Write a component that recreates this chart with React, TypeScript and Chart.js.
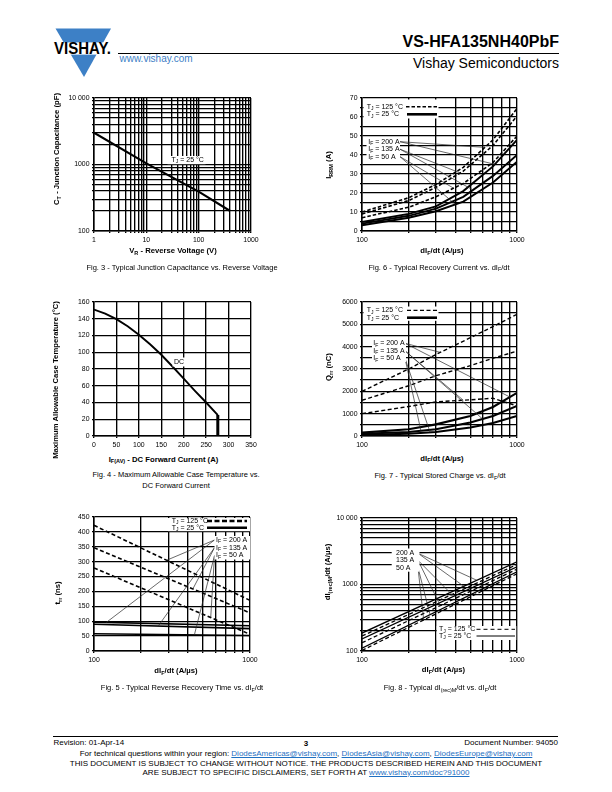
import React, { useEffect, useRef } from "react";
import { Chart, registerables } from "chart.js";

Chart.register(...registerables);

const FONT = '"Liberation Sans", Arimo, Arial, Helvetica, sans-serif';

// ---------------- tick values / labels ----------------
const logGrid = (lo: number, hi: number) => {
  const out: number[] = [];
  for (let d = lo; d < hi; d *= 10) for (let m = 1; m < 10; m++) out.push(Math.round(d * m));
  out.push(hi);
  return out;
};
const vrLabels = [1, 10, 100, 1000];
const vrText = ["1", "10", "100", "1000"];
const ctLabels = [100, 1000, 10000];
const ctText = ["100", "1000", "10 000"];
const rateLabels = [100, 1000];
const rateText = ["100", "1000"];
const irrmGrid = [0, 5, 10, 15, 20, 25, 30, 35, 40, 45, 50, 55, 60, 65, 70];
const irrmLabels = [0, 10, 20, 30, 40, 50, 60, 70];
const ifavGrid = [0, 50, 100, 150, 200, 250, 300, 350];
const tcGrid = [0, 20, 40, 60, 80, 100, 120, 140, 160];
const qrrGrid = [0, 500, 1000, 1500, 2000, 2500, 3000, 3500, 4000, 4500, 5000, 5500, 6000];
const qrrLabels = [0, 1000, 2000, 3000, 4000, 5000, 6000];
const trrGrid = [0, 50, 100, 150, 200, 250, 300, 350, 400, 450];
const didtLabels = [100, 1000, 10000];
const didtText = ["100", "1000", "10 000"];

// ---------------- Fig. 3 data ----------------
const fig3VR = [1, 10, 100, 400];
const fig3CT = [3000, 1040, 390, 200];

// ---------------- Fig. 6 data ----------------
const fig6Rate = [100, 200, 300, 450, 700, 1000];
const fig6D200 = [10, 17.5, 24.5, 33.5, 48, 64.5];
const fig6D135 = [9, 16, 23, 31.5, 45, 60.5];
const fig6D50 = [7, 12.5, 18, 25, 36, 50];
const fig6S200 = [4.7, 9, 13, 21, 34, 48];
const fig6S135 = [3.9, 8, 11.8, 18, 29, 40];
const fig6S50 = [3, 7, 10.4, 15.5, 25.5, 36.5];

// ---------------- Fig. 4 data ----------------
const fig4IF = [0, 25, 50, 75, 100, 125, 150, 175, 200, 225, 250, 276];
const fig4TC = [151, 146, 139.5, 131, 121, 109.5, 97, 83, 68.5, 54, 40, 25];
const fig4DropIF = [276, 276];
const fig4DropTC = [25, 0];

// ---------------- Fig. 7 data ----------------
const fig7Rate = [100, 200, 300, 500, 700, 1000];
const fig7D200 = [2000, 3000, 3650, 4400, 4900, 5450];
const fig7D135 = [1600, 2250, 2700, 3150, 3480, 3800];
const fig7D50 = [1000, 1320, 1530, 1620, 1690, 1350];
const fig7S200 = [150, 300, 520, 900, 1300, 1930];
const fig7S135 = [100, 180, 300, 600, 900, 1350];
const fig7S50 = [50, 100, 180, 380, 580, 900];

// ---------------- Fig. 5 data ----------------
const fig5Rate = [100, 1000];
const fig5D200 = [422, 170];
const fig5D135 = [347, 128];
const fig5D50 = [279, 56];
const fig5S200 = [97, 85];
const fig5S135 = [90, 75];
const fig5S50 = [58, 52];

// ---------------- Fig. 8 data ----------------
const fig8Rate = [100, 1000];
const fig8S200 = [186, 2200];
const fig8D200 = [168, 2000];
const fig8S135 = [152, 1850];
const fig8D135 = [133, 1700];
const fig8S50 = [110, 1550];
const fig8D50 = [102, 1450];

// ---------------- helpers ----------------
type Part = { t: string; sub: boolean };
function parseRich(s: string): Part[] {
  const parts: Part[] = [];
  const re = /_\{([^}]*)\}/g;
  let last = 0;
  let m: RegExpExecArray | null;
  while ((m = re.exec(s))) {
    if (m.index > last) parts.push({ t: s.slice(last, m.index), sub: false });
    parts.push({ t: m[1], sub: true });
    last = re.lastIndex;
  }
  if (last < s.length) parts.push({ t: s.slice(last), sub: false });
  return parts;
}

function drawRich(ctx: CanvasRenderingContext2D, s: string, x: number, y: number, size: number, align = "left") {
  const parts = parseRich(s);
  const fontFor = (sub: boolean) => `${sub ? size * 0.72 : size}px ${FONT}`;
  let w = 0;
  for (const p of parts) {
    ctx.font = fontFor(p.sub);
    w += ctx.measureText(p.t).width;
  }
  let cx = align === "right" ? x - w : align === "center" ? x - w / 2 : x;
  ctx.textBaseline = "middle";
  ctx.textAlign = "left";
  ctx.fillStyle = "#000";
  for (const p of parts) {
    ctx.font = fontFor(p.sub);
    ctx.fillText(p.t, cx, p.sub ? y + size * 0.3 : y);
    cx += ctx.measureText(p.t).width;
  }
}

type Series = { name: string; xs: number[]; ys: number[]; width: number; dash?: number[] };
type Axis = { type: "linear" | "logarithmic"; min: number; max: number; grid: number[]; labels: number[]; text: string[] };
type Sample = { x0: number; x1: number; y: number; width: number; dash?: number[] };
type RichItem = { x: number; y: number; s: string; align?: string };
type Leader = { from: [number, number]; series: string; at: number };
type Spec = {
  id: string;
  area: [number, number, number, number];
  x: Axis;
  y: Axis;
  series: Series[];
  boxes?: [number, number, number, number][];
  samples?: Sample[];
  texts?: RichItem[];
  leaders?: Leader[];
};

const PAD = { l: 40, t: 8, r: 14, b: 18 };

function buildAxis(a: Axis, horizontal: boolean) {
  return {
    type: a.type,
    min: a.min,
    max: a.max,
    position: horizontal ? "bottom" : "left",
    afterBuildTicks: (s: any) => {
      s.ticks = a.grid.map((v) => ({ value: v }));
    },
    afterFit: (s: any) => {
      if (horizontal) s.height = PAD.b;
      else s.width = PAD.l;
    },
    ticks: {
      autoSkip: false,
      maxRotation: 0,
      minRotation: 0,
      padding: 2.5,
      color: "#000",
      font: { family: FONT, size: 6.9 },
      callback: (v: any) => {
        const n = Number(v);
        const i = a.labels.findIndex((l) => Math.abs(l - n) < 1e-6 * Math.max(1, Math.abs(l)));
        return i >= 0 ? a.text[i] : "";
      },
    },
    grid: { color: "#000", lineWidth: 1.35, drawTicks: true, tickLength: 2, tickColor: "#000" },
    border: { color: "#000", width: 1.5 },
  };
}

function valueAt(s: Series, at: number, xLog: boolean, yLog: boolean) {
  const fx = (v: number) => (xLog ? Math.log10(v) : v);
  const fy = (v: number) => (yLog ? Math.log10(v) : v);
  const gy = (v: number) => (yLog ? Math.pow(10, v) : v);
  for (let i = 0; i < s.xs.length - 1; i++) {
    if (at >= s.xs[i] && at <= s.xs[i + 1]) {
      const t = (fx(at) - fx(s.xs[i])) / (fx(s.xs[i + 1]) - fx(s.xs[i]));
      return gy(fy(s.ys[i]) + t * (fy(s.ys[i + 1]) - fy(s.ys[i])));
    }
  }
  return s.ys[s.ys.length - 1];
}

function geometry(sp: Spec) {
  const [x0, y0, x1, y1] = sp.area;
  return {
    left: x0 - PAD.l,
    top: y0 - PAD.t,
    width: x1 - x0 + PAD.l + PAD.r,
    height: y1 - y0 + PAD.t + PAD.b,
  };
}

function makeConfig(sp: Spec) {
  const g = geometry(sp);
  const ox = g.left;
  const oy = g.top;
  const byName: Record<string, Series> = {};
  sp.series.forEach((s) => (byName[s.name] = s));
  const overlay = {
    id: "overlay_" + sp.id,
    afterDatasetsDraw(chart: any) {
      const ctx: CanvasRenderingContext2D = chart.ctx;
      const xs = chart.scales.x;
      const ys = chart.scales.y;
      ctx.save();
      ctx.setLineDash([]);
      ctx.strokeStyle = "#2a2a2a";
      ctx.lineWidth = 0.7;
      for (const L of sp.leaders || []) {
        const s = byName[L.series];
        const v = valueAt(s, L.at, sp.x.type === "logarithmic", sp.y.type === "logarithmic");
        ctx.beginPath();
        ctx.moveTo(L.from[0] - ox, L.from[1] - oy);
        ctx.lineTo(xs.getPixelForValue(L.at), ys.getPixelForValue(v));
        ctx.stroke();
      }
      ctx.fillStyle = "#fff";
      for (const b of sp.boxes || []) ctx.fillRect(b[0] - ox, b[1] - oy, b[2] - b[0], b[3] - b[1]);
      ctx.strokeStyle = "#000";
      for (const sm of sp.samples || []) {
        ctx.lineWidth = sm.width;
        ctx.setLineDash(sm.dash || []);
        ctx.beginPath();
        ctx.moveTo(sm.x0 - ox, sm.y - oy);
        ctx.lineTo(sm.x1 - ox, sm.y - oy);
        ctx.stroke();
      }
      ctx.setLineDash([]);
      for (const t of sp.texts || []) drawRich(ctx, t.s, t.x - ox, t.y - oy, 7, t.align || "left");
      ctx.restore();
    },
  };
  return {
    type: "scatter",
    data: {
      datasets: sp.series.map((s) => ({
        label: s.name,
        data: s.xs.map((x, i) => ({ x, y: s.ys[i] })),
        showLine: true,
        borderColor: "#000",
        backgroundColor: "#000",
        borderWidth: s.width,
        borderDash: s.dash || [],
        pointRadius: 0,
        pointHoverRadius: 0,
        fill: false,
        tension: 0,
        borderCapStyle: "butt",
        borderJoinStyle: "miter",
      })),
    },
    options: {
      responsive: true,
      maintainAspectRatio: false,
      animation: false,
      events: [],
      layout: { padding: { left: 0, top: PAD.t, right: PAD.r, bottom: 0 } },
      plugins: { legend: { display: false }, tooltip: { enabled: false } },
      scales: { x: buildAxis(sp.x, true), y: buildAxis(sp.y, false) },
    },
    plugins: [overlay],
  };
}

function Panel({ spec }: { spec: Spec }) {
  const ref = useRef<HTMLCanvasElement | null>(null);
  useEffect(() => {
    const chart = new Chart(ref.current as HTMLCanvasElement, makeConfig(spec) as any);
    return () => chart.destroy();
  }, []);
  const g = geometry(spec);
  return (
    <div style={{ position: "absolute", left: g.left, top: g.top, width: g.width, height: g.height }}>
      <canvas ref={ref} />
    </div>
  );
}

function Rich({ s }: { s: string }) {
  return (
    <>
      {parseRich(s).map((p, i) =>
        p.sub ? (
          <span key={i} style={{ fontSize: "72%", position: "relative", top: "0.3em" }}>
            {p.t}
          </span>
        ) : (
          <span key={i}>{p.t}</span>
        )
      )}
    </>
  );
}

function Label(props: { x: number; y: number; s: string; size: number; bold?: boolean; align?: string; rotate?: boolean; color?: string }) {
  const { x, y, s, size, bold, align = "center", rotate, color = "#000" } = props;
  const tx = align === "center" ? "-50%" : align === "right" ? "-100%" : "0";
  return (
    <div
      style={{
        position: "absolute",
        left: x,
        top: y,
        transform: rotate ? "translate(-50%,-50%) rotate(-90deg)" : `translate(${tx},-50%)`,
        whiteSpace: "nowrap",
        fontSize: size,
        fontWeight: bold ? "bold" : "normal",
        lineHeight: 1,
        fontFamily: FONT,
        color,
      }}
    >
      <Rich s={s} />
    </div>
  );
}

// ---------------- chart specs ----------------
const fig3: Spec = {
  id: "f3",
  area: [94, 98, 251, 231],
  x: { type: "logarithmic", min: 1, max: 1000, grid: logGrid(1, 1000), labels: vrLabels, text: vrText },
  y: { type: "logarithmic", min: 100, max: 10000, grid: logGrid(100, 10000), labels: ctLabels, text: ctText },
  series: [{ name: "ct", xs: fig3VR, ys: fig3CT, width: 2.1 }],
  boxes: [[167.5, 156, 205.5, 164.2]],
  texts: [{ x: 171.5, y: 160, s: "T_{J} = 25 °C" }],
};

const fig6: Spec = {
  id: "f6",
  area: [362, 98, 517, 231],
  x: { type: "logarithmic", min: 100, max: 1000, grid: logGrid(100, 1000), labels: rateLabels, text: rateText },
  y: { type: "linear", min: 0, max: 70, grid: irrmGrid, labels: irrmLabels, text: irrmLabels.map(String) },
  series: [
    { name: "d200", xs: fig6Rate, ys: fig6D200, width: 1.6, dash: [3.5, 2] },
    { name: "d135", xs: fig6Rate, ys: fig6D135, width: 1.6, dash: [3.5, 2] },
    { name: "d50", xs: fig6Rate, ys: fig6D50, width: 1.6, dash: [3.5, 2] },
    { name: "s200", xs: fig6Rate, ys: fig6S200, width: 1.9 },
    { name: "s135", xs: fig6Rate, ys: fig6S135, width: 1.9 },
    { name: "s50", xs: fig6Rate, ys: fig6S50, width: 1.9 },
  ],
  leaders: [
    { from: [400, 141.7], series: "d200", at: 620 },
    { from: [400, 141.7], series: "s200", at: 720 },
    { from: [400, 149.2], series: "d135", at: 430 },
    { from: [400, 149.2], series: "s135", at: 520 },
    { from: [400, 156.7], series: "d50", at: 390 },
    { from: [400, 156.7], series: "s50", at: 400 },
  ],
  boxes: [
    [363.5, 99.5, 438.5, 118.5],
    [366.5, 137.5, 400, 160.5],
  ],
  samples: [
    { x0: 406, x1: 437, y: 106.7, width: 1.5, dash: [3.5, 2] },
    { x0: 407, x1: 437, y: 114.3, width: 2.6 },
  ],
  texts: [
    { x: 366.7, y: 106.7, s: "T_{J} = 125 °C" },
    { x: 366.7, y: 114.3, s: "T_{J} = 25 °C" },
    { x: 368.3, y: 141.7, s: "I_{F} = 200 A" },
    { x: 368.3, y: 149.2, s: "I_{F} = 135 A" },
    { x: 368.3, y: 156.7, s: "I_{F} = 50 A" },
  ],
};

const fig4: Spec = {
  id: "f4",
  area: [94, 302, 251, 436],
  x: { type: "linear", min: 0, max: 350, grid: ifavGrid, labels: ifavGrid, text: ifavGrid.map(String) },
  y: { type: "linear", min: 0, max: 160, grid: tcGrid, labels: tcGrid, text: tcGrid.map(String) },
  series: [
    { name: "dc", xs: fig4IF, ys: fig4TC, width: 1.9 },
    { name: "drop", xs: fig4DropIF, ys: fig4DropTC, width: 3 },
  ],
  boxes: [[172.5, 357.5, 185, 366.5]],
  texts: [{ x: 174, y: 362, s: "DC" }],
};

const fig7: Spec = {
  id: "f7",
  area: [362, 302, 517, 436],
  x: { type: "logarithmic", min: 100, max: 1000, grid: logGrid(100, 1000), labels: rateLabels, text: rateText },
  y: { type: "linear", min: 0, max: 6000, grid: qrrGrid, labels: qrrLabels, text: qrrLabels.map(String) },
  series: [
    { name: "d200", xs: fig7Rate, ys: fig7D200, width: 1.4, dash: [4, 2.5] },
    { name: "d135", xs: fig7Rate, ys: fig7D135, width: 1.4, dash: [4, 2.5] },
    { name: "d50", xs: fig7Rate, ys: fig7D50, width: 1.4, dash: [4, 2.5] },
    { name: "s200", xs: fig7Rate, ys: fig7S200, width: 2.1 },
    { name: "s135", xs: fig7Rate, ys: fig7S135, width: 2.1 },
    { name: "s50", xs: fig7Rate, ys: fig7S50, width: 2.1 },
  ],
  leaders: [
    { from: [405, 343.3], series: "d200", at: 320 },
    { from: [405, 343.3], series: "s200", at: 900 },
    { from: [405, 350.8], series: "d50", at: 450 },
    { from: [405, 350.8], series: "s135", at: 600 },
    { from: [405, 358.3], series: "s50", at: 275 },
    { from: [405, 358.3], series: "s135", at: 240 },
  ],
  boxes: [
    [363.5, 306.5, 438.5, 320.8],
    [372, 339, 406, 362],
  ],
  samples: [
    { x0: 407, x1: 437, y: 310.3, width: 1.3, dash: [4, 2.5] },
    { x0: 407, x1: 437, y: 317.7, width: 2.6 },
  ],
  texts: [
    { x: 366.7, y: 310.3, s: "T_{J} = 125 °C" },
    { x: 366.7, y: 317.7, s: "T_{J} = 25 °C" },
    { x: 373.3, y: 343.3, s: "I_{F} = 200 A" },
    { x: 373.3, y: 350.8, s: "I_{F} = 135 A" },
    { x: 373.3, y: 358.3, s: "I_{F} = 50 A" },
  ],
};

const fig5: Spec = {
  id: "f5",
  area: [94, 517, 250, 651],
  x: { type: "logarithmic", min: 100, max: 1000, grid: logGrid(100, 1000), labels: rateLabels, text: rateText },
  y: { type: "linear", min: 0, max: 450, grid: trrGrid, labels: trrGrid, text: trrGrid.map(String) },
  series: [
    { name: "d200", xs: fig5Rate, ys: fig5D200, width: 1.6, dash: [4, 2.5] },
    { name: "d135", xs: fig5Rate, ys: fig5D135, width: 1.6, dash: [4, 2.5] },
    { name: "d50", xs: fig5Rate, ys: fig5D50, width: 1.6, dash: [4, 2.5] },
    { name: "s200", xs: fig5Rate, ys: fig5S200, width: 1.6 },
    { name: "s135", xs: fig5Rate, ys: fig5S135, width: 1.6 },
    { name: "s50", xs: fig5Rate, ys: fig5S50, width: 1.6 },
  ],
  leaders: [
    { from: [214.5, 540], series: "d200", at: 292 },
    { from: [214.5, 540], series: "s200", at: 120 },
    { from: [214.5, 547.7], series: "d135", at: 430 },
    { from: [214.5, 547.7], series: "s135", at: 258 },
    { from: [214.5, 555.5], series: "d50", at: 560 },
    { from: [214.5, 555.5], series: "s50", at: 440 },
  ],
  boxes: [
    [168, 518, 250, 531.2],
    [214.5, 536, 250, 559.5],
  ],
  samples: [
    { x0: 207, x1: 247, y: 521, width: 2.6, dash: [5, 2.5] },
    { x0: 207, x1: 247, y: 527.7, width: 2.6 },
  ],
  texts: [
    { x: 171.7, y: 521, s: "T_{J} = 125 °C" },
    { x: 171.7, y: 527.7, s: "T_{J} = 25 °C" },
    { x: 216, y: 540, s: "I_{F} = 200 A" },
    { x: 216, y: 547.7, s: "I_{F} = 135 A" },
    { x: 216, y: 555.5, s: "I_{F} = 50 A" },
  ],
};

const fig8: Spec = {
  id: "f8",
  area: [362, 518, 517, 651],
  x: { type: "logarithmic", min: 100, max: 1000, grid: logGrid(100, 1000), labels: rateLabels, text: rateText },
  y: { type: "logarithmic", min: 100, max: 10000, grid: logGrid(100, 10000), labels: didtLabels, text: didtText },
  series: [
    { name: "s200", xs: fig8Rate, ys: fig8S200, width: 1.3 },
    { name: "d200", xs: fig8Rate, ys: fig8D200, width: 1.3, dash: [4, 2.5] },
    { name: "s135", xs: fig8Rate, ys: fig8S135, width: 1.3 },
    { name: "d135", xs: fig8Rate, ys: fig8D135, width: 1.3, dash: [4, 2.5] },
    { name: "s50", xs: fig8Rate, ys: fig8S50, width: 1.3 },
    { name: "d50", xs: fig8Rate, ys: fig8D50, width: 1.3, dash: [4, 2.5] },
  ],
  leaders: [
    { from: [418, 553.3], series: "s200", at: 550 },
    { from: [418, 553.3], series: "d200", at: 470 },
    { from: [418, 560.3], series: "s135", at: 390 },
    { from: [418, 560.3], series: "d135", at: 320 },
    { from: [418, 567.7], series: "s50", at: 275 },
    { from: [418, 567.7], series: "d50", at: 250 },
  ],
  boxes: [
    [391.7, 548.5, 419.5, 571.7],
    [436.7, 626, 516.3, 640],
  ],
  samples: [
    { x0: 476.5, x1: 515, y: 629.3, width: 1, dash: [4, 3] },
    { x0: 476.5, x1: 515, y: 636, width: 1 },
  ],
  texts: [
    { x: 396, y: 553.3, s: "200 A" },
    { x: 396, y: 560.3, s: "135 A" },
    { x: 396, y: 567.7, s: "50 A" },
    { x: 439, y: 629.3, s: "T_{J} = 125 °C" },
    { x: 439, y: 636, s: "T_{J} = 25 °C" },
  ],
};

const VBLUE = "#3d80c6";
const LINK = "#1f70c2";

function Link({ children }: { children: any }) {
  return <span style={{ color: LINK, textDecoration: "underline" }}>{children}</span>;
}

export default function App() {
  useEffect(() => {
    document.body.style.margin = "0";
  }, []);
  const T = 7.7;
  const C = 7.5;
  return (
    <div
      style={{
        position: "absolute",
        left: 0,
        top: 0,
        width: 612,
        height: 792,
        background: "#fff",
        overflow: "hidden",
        fontFamily: FONT,
        color: "#000",
      }}
    >
      {/* header */}
      <svg style={{ position: "absolute", left: 0, top: 0 }} width={612} height={90}>
        <polygon points="55.5,28.5 111,28.5 84,77" fill={VBLUE} />
        <rect x={51} y={42.4} width={64} height={12.2} fill="#fff" />
        <text
          x={54}
          y={54.4}
          fontFamily={FONT}
          fontWeight="bold"
          fontSize={16.5}
          fill="#000"
          textLength={57}
          lengthAdjust="spacingAndGlyphs"
        >
          VISHAY.
        </text>
      </svg>
      <Label x={119.5} y={59.4} s="www.vishay.com" size={10} align="left" color={VBLUE} />
      <Label x={559} y={41.5} s="VS-HFA135NH40PbF" size={16} bold align="right" />
      <div style={{ position: "absolute", left: 117.5, top: 53, width: 441.5, height: 1, background: "#000" }} />
      <Label x={559} y={62.6} s="Vishay Semiconductors" size={14} align="right" />

      {/* charts */}
      <Panel spec={fig3} />
      <Panel spec={fig6} />
      <Panel spec={fig4} />
      <Panel spec={fig7} />
      <Panel spec={fig5} />
      <Panel spec={fig8} />

      {/* axis titles */}
      <Label x={57} y={149} s="C_{T} - Junction Capacitance (pF)" size={T} bold rotate />
      <Label x={173} y={251} s="V_{R} - Reverse Voltage (V)" size={T} bold />
      <Label x={182} y={267.5} s="Fig. 3 - Typical Junction Capacitance vs. Reverse Voltage" size={C} />

      <Label x={329} y={165} s="I_{RRM} (A)" size={T} bold rotate />
      <Label x={442} y={251} s="dI_{F}/dt (A/µs)" size={T} bold />
      <Label x={439} y={267.5} s="Fig. 6 - Typical Recovery Current vs. dI_{F}/dt" size={C} />

      <Label x={55.5} y={380} s="Maximum Allowable Case Temperature (°C)" size={T} bold rotate />
      <Label x={163.5} y={459.5} s="I_{F(AV)} - DC Forward Current (A)" size={T} bold />
      <Label x={176} y={475} s="Fig. 4 - Maximum Allowable Case Temperature vs." size={C} />
      <Label x={176} y={485.5} s="DC Forward Current" size={C} />

      <Label x={329} y={367} s="Q_{rr} (nC)" size={T} bold rotate />
      <Label x={442} y={458.5} s="dI_{F}/dt (A/µs)" size={T} bold />
      <Label x={440} y={476} s="Fig. 7 - Typical Stored Charge vs. dI_{F}/dt" size={C} />

      <Label x={57.5} y={593} s="t_{rr} (ns)" size={T} bold rotate />
      <Label x={176} y={671} s="dI_{F}/dt (A/µs)" size={T} bold />
      <Label x={182} y={688} s="Fig. 5 - Typical Reverse Recovery Time vs. dI_{F}/dt" size={C} />

      <Label x={328} y={572} s="dI_{(rec)M}/dt (A/µs)" size={T} bold rotate />
      <Label x={443.5} y={670} s="dI_{F}/dt (A/µs)" size={T} bold />
      <Label x={440} y={688} s="Fig. 8 - Typical dI_{(rec)M}/dt vs. dI_{F}/dt" size={C} />

      {/* footer */}
      <div style={{ position: "absolute", left: 53, top: 736.3, width: 505, height: 1, background: "#000" }} />
      <Label x={53.5} y={743.4} s="Revision: 01-Apr-14" size={8} align="left" />
      <Label x={306} y={744} s="3" size={8} bold />
      <Label x={558} y={743.4} s="Document Number: 94050" size={8} align="right" />
      <div
        style={{
          position: "absolute",
          left: 306,
          top: 754,
          transform: "translate(-50%,-50%)",
          whiteSpace: "nowrap",
          fontSize: 8,
          lineHeight: 1,
        }}
      >
        For technical questions within your region: <Link>DiodesAmericas@vishay.com</Link>,{" "}
        <Link>DiodesAsia@vishay.com</Link>, <Link>DiodesEurope@vishay.com</Link>
      </div>
      <Label
        x={306}
        y={763.5}
        s="THIS DOCUMENT IS SUBJECT TO CHANGE WITHOUT NOTICE. THE PRODUCTS DESCRIBED HEREIN AND THIS DOCUMENT"
        size={8}
      />
      <div
        style={{
          position: "absolute",
          left: 306,
          top: 772.5,
          transform: "translate(-50%,-50%)",
          whiteSpace: "nowrap",
          fontSize: 8,
          lineHeight: 1,
        }}
      >
        ARE SUBJECT TO SPECIFIC DISCLAIMERS, SET FORTH AT <Link>www.vishay.com/doc?91000</Link>
      </div>
    </div>
  );
}
